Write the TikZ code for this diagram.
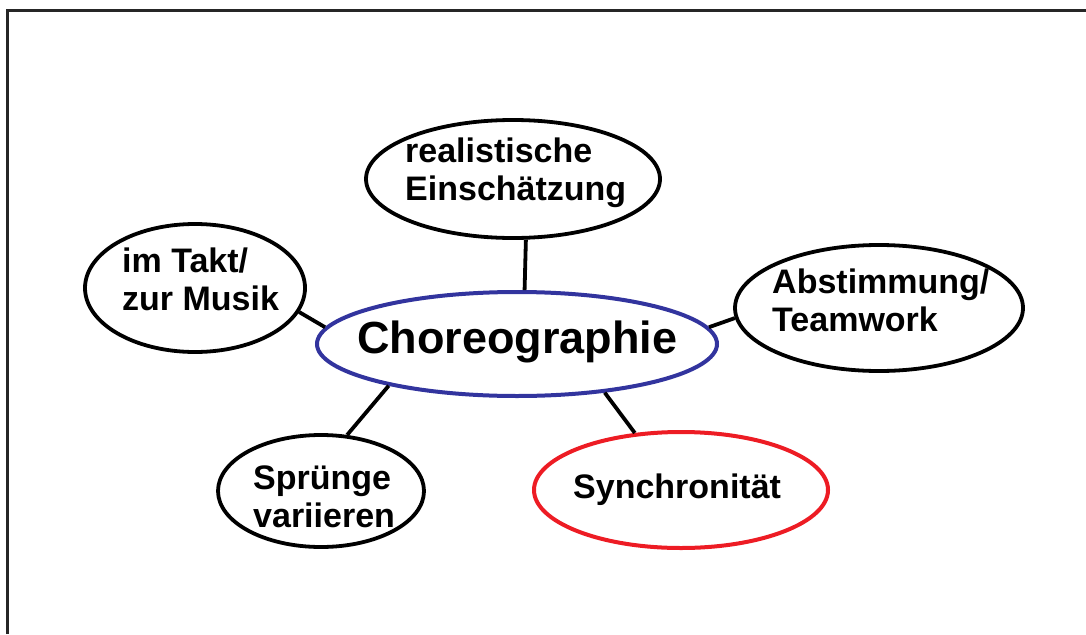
\documentclass[tikz,border=0pt]{standalone}
\usepackage{fontspec}
\setmainfont{Liberation Sans}
\usetikzlibrary{shapes.geometric}
\definecolor{paintblue}{RGB}{50,52,158}
\definecolor{paintred}{RGB}{237,28,36}

\begin{document}
\begin{tikzpicture}[x=1pt,y=-1pt,
    bubble/.style={draw,ellipse,line width=3.8pt,inner sep=0pt},
    txt/.style={inner sep=0pt,align=left,font=\bfseries\fontsize{34}{38}\selectfont},
    link/.style={line width=3.8pt}]
    \useasboundingbox (0,0) rectangle (1086,634);
    % Rahmen
    \draw[line width=3pt,black!85] (7,634) -- (7,11) -- (1086,11);

    % Ellipsen
    \node[bubble,draw=paintblue,line width=4pt,minimum width=400,minimum height=104] (chor) at (517,344) {};
    \node[bubble,minimum width=294,minimum height=118] (real) at (513,179) {};
    \node[bubble,minimum width=220,minimum height=128] (takt) at (195,288) {};
    \node[bubble,minimum width=288,minimum height=126] (abst) at (879,308) {};
    \node[bubble,minimum width=206,minimum height=112] (spr) at (321,491) {};
    \node[bubble,draw=paintred,line width=4pt,minimum width=294,minimum height=116] (sync) at (681,490) {};

    % Texte
    \node[txt,anchor=base west,font=\bfseries\fontsize{45}{50}\selectfont] (chorT) at (357,353) {Choreographie};
    \node[txt,anchor=west] (realT) at (405,173) {realistische\\Einschätzung};
    \node[txt,anchor=west] (taktT) at (122,279) {im Takt/\\zur Musik};
    \node[txt,anchor=west] (abstT) at (772,300) {Abstimmung/\\Teamwork};
    \node[txt,anchor=west] (sprT) at (253,497) {Sprünge\\variieren};
    \node[txt,anchor=base west] (syncT) at (573,498) {Synchronität};

    % Verbindungen
    \draw[link] (real.-78) -- (chor.82);
    \draw[link] (takt.-13) -- (chor.175);
    \draw[link] (chor.5) -- (abst.-176);
    \draw[link] (chor.-162) -- (spr.65);
    \draw[link] (chor.-29) -- (sync.129);
\end{tikzpicture}
\end{document}
